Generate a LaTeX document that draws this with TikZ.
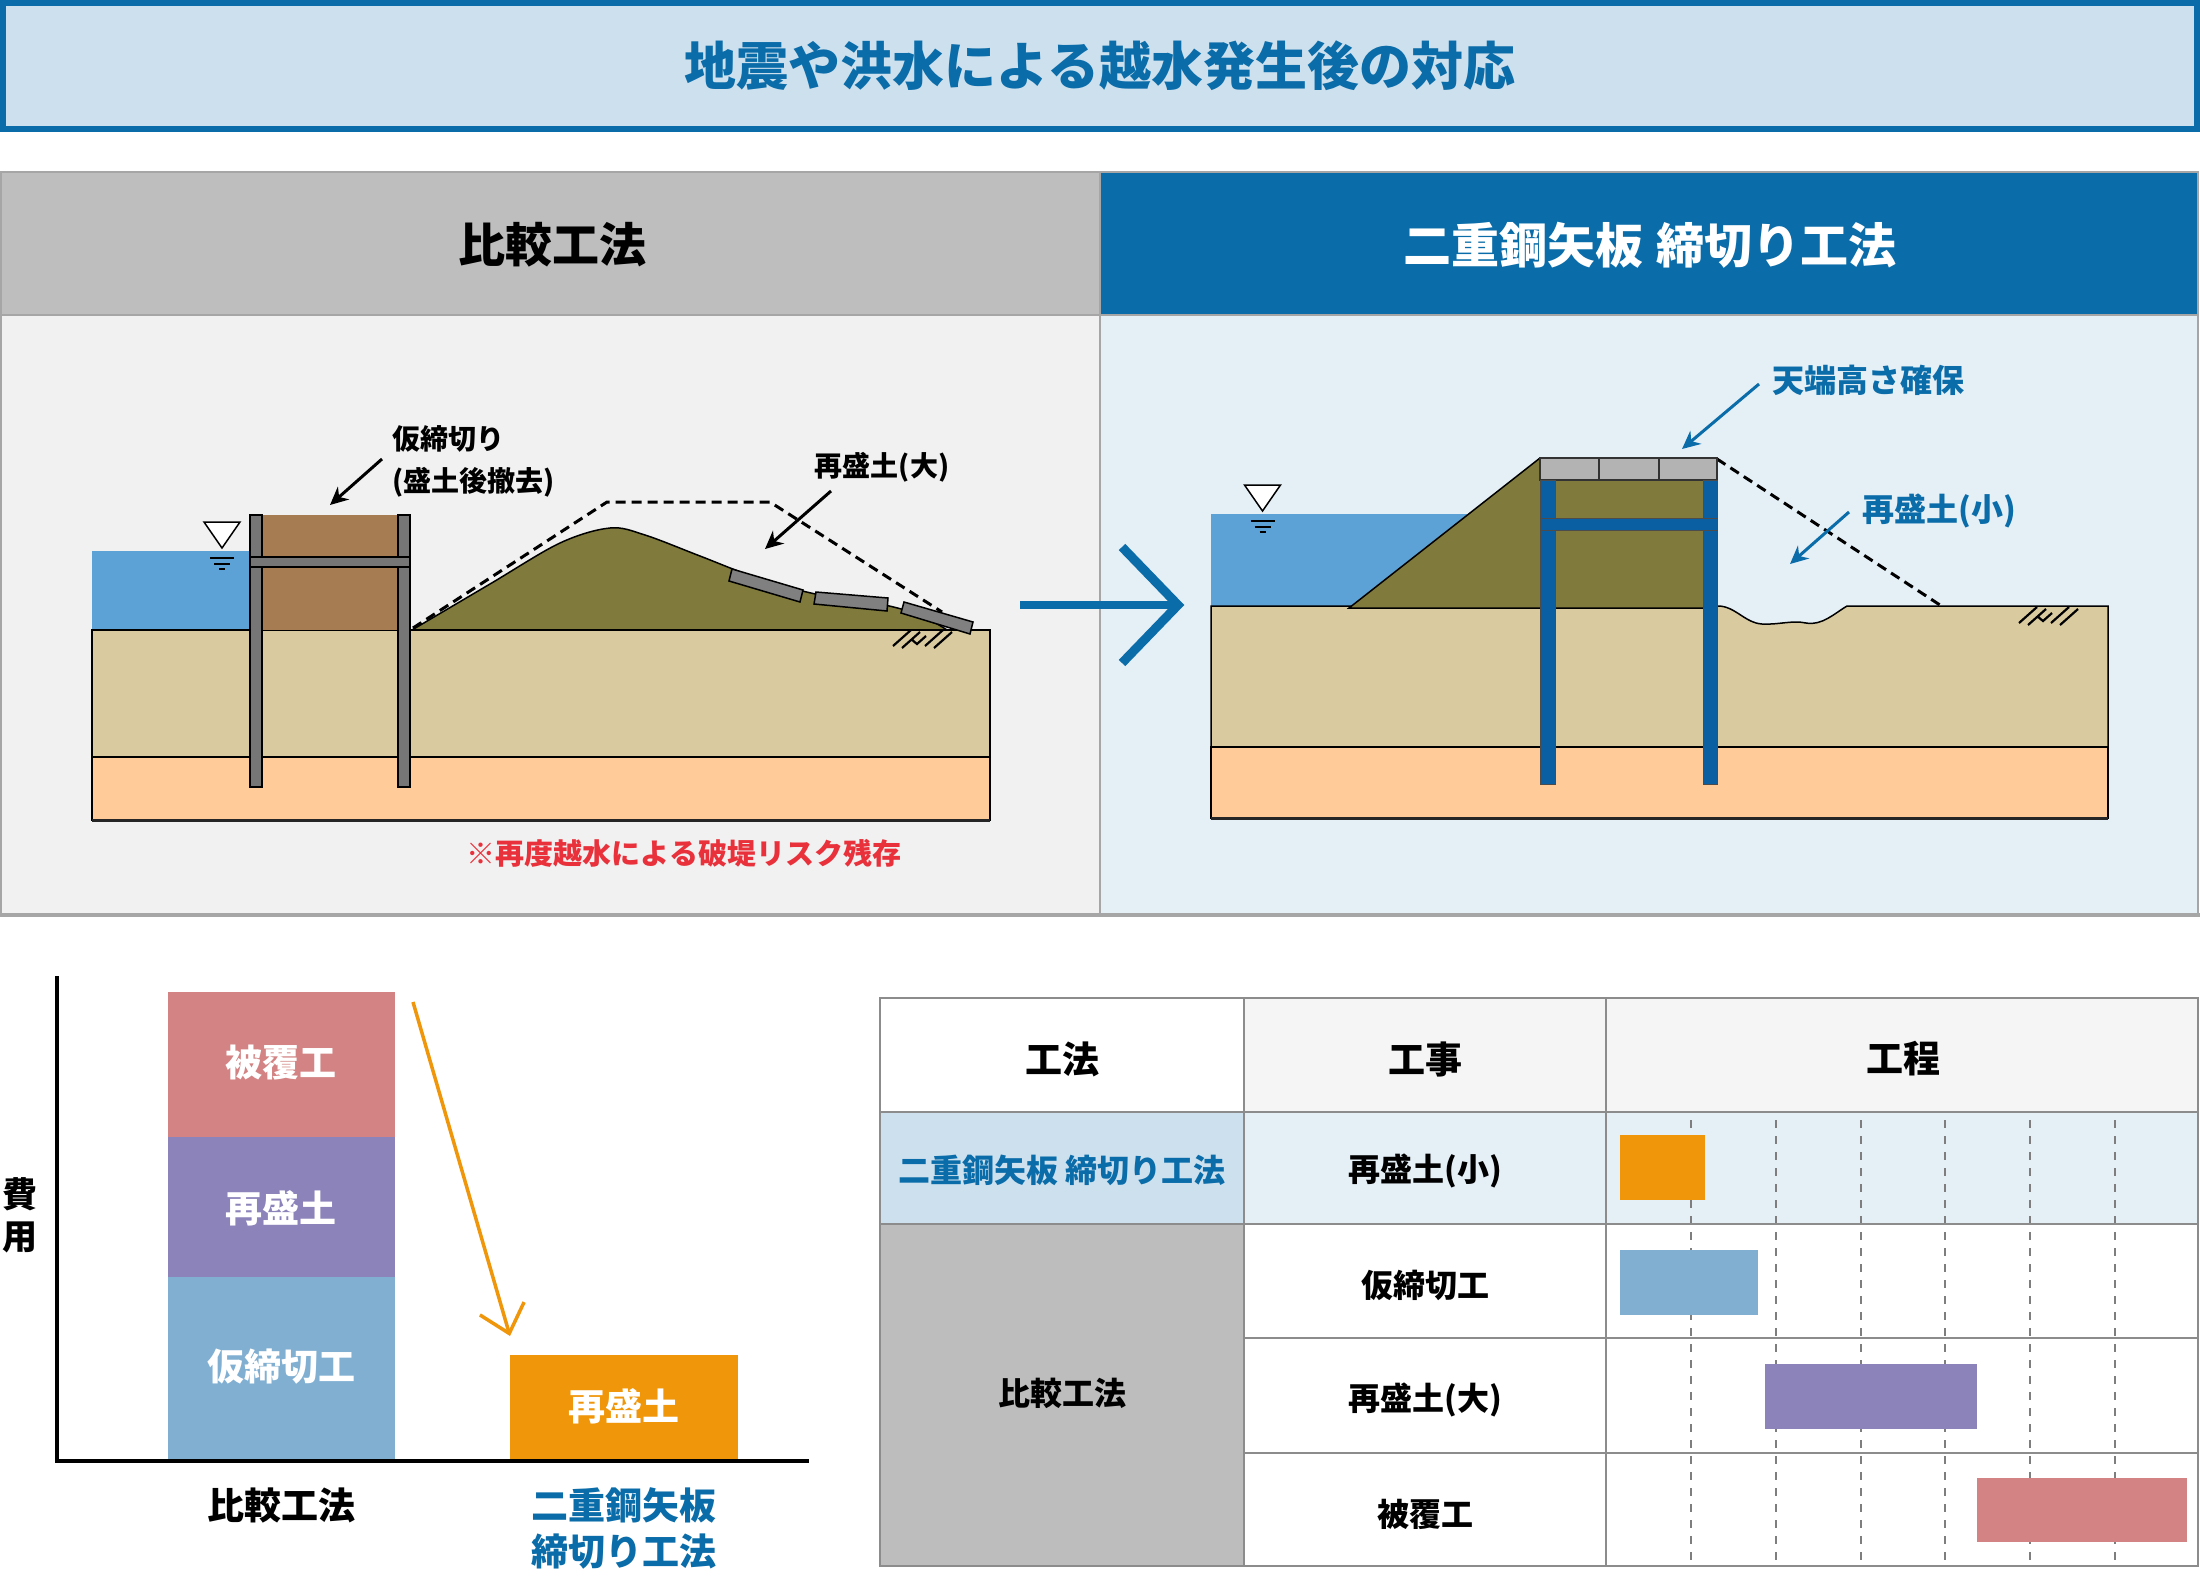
\documentclass[tikz,border=0pt]{standalone}
\usepackage{fontspec}
\setmainfont{Noto Sans CJK JP}
\usetikzlibrary{arrows.meta}
\definecolor{tblue}{HTML}{0A6CA8}
\definecolor{titlefill}{HTML}{CDE0EE}
\definecolor{hdrgray}{HTML}{BEBEBE}
\definecolor{pborder}{HTML}{A6A6A6}
\definecolor{lbody}{HTML}{F1F1F1}
\definecolor{rbody}{HTML}{E4EFF6}
\definecolor{water}{HTML}{5CA2D6}
\definecolor{tan}{HTML}{D9CA9F}
\definecolor{peach}{HTML}{FFCB99}
\definecolor{olivefill}{HTML}{807B3C}
\definecolor{brownfill}{HTML}{A67C52}
\definecolor{pilegray}{HTML}{767676}
\definecolor{blockgray}{HTML}{808080}
\definecolor{capgray}{HTML}{B3B3B3}
\definecolor{pileblue}{HTML}{0A5FA3}
\definecolor{notered}{HTML}{E8313B}
\definecolor{cpink}{HTML}{D38383}
\definecolor{cpurple}{HTML}{8C83BA}
\definecolor{clblue}{HTML}{80AFD2}
\definecolor{corange}{HTML}{F0960A}
\definecolor{thead}{HTML}{F5F5F5}
\definecolor{tgray}{HTML}{BDBDBD}
\definecolor{tline}{HTML}{8C8C8C}
\newcommand\myfs[1]{\fontsize{#1}{#1}\selectfont}
\tikzset{
  txt/.style={inner sep=0pt, font=\bfseries\myfs{#1}},
  outl/.style={draw=black, line width=1.5pt},
  ptr/.style={line width=3pt, -{Stealth[length=18pt,width=17pt]}},
  dashln/.style={line width=3pt, dash pattern=on 10pt off 6pt},
  gantdash/.style={draw=tline!90!black, line width=2pt, dash pattern=on 8pt off 8pt},
  grid/.style={draw=tline, line width=2.5pt},
  hatchsym/.pic={
    \draw[line width=2.2pt] (0,16)--(18,0) (9,18)--(27,2) (18,9)--(24,14)--(33,6) (32,16)--(50,0) (41,18)--(59,2);
  },
  wsym/.pic={
    \filldraw[fill=white, draw=black, line width=1.5pt] (-18,-26)--(18,-26)--(0,0)--cycle;
    \draw[line width=2pt] (-12,10)--(12,10) (-8,16)--(8,16) (-3,21)--(3,21);
  }
}
\begin{document}
\begin{tikzpicture}[x=1pt,y=-1pt]
\useasboundingbox (0,0) rectangle (2200,1588);
\fill[white] (0,0) rectangle (2200,1588);

% ---------- title ----------
\node[draw=tblue, line width=6pt, fill=titlefill, minimum width=2194pt, minimum height=126pt, inner sep=0pt] (titlebox) at (1100,66) {};
\node[txt=52, text=tblue] (title) at (1100,66) {地震や洪水による越水発生後の対応};

% ---------- panels ----------
\filldraw[fill=hdrgray, draw=pborder, line width=2pt] (1,172) rectangle (1100,315);
\filldraw[fill=lbody, draw=pborder, line width=2pt] (1,315) rectangle (1100,915);
\filldraw[fill=tblue, draw=pborder, line width=2pt] (1100,172) rectangle (2198,315);
\filldraw[fill=rbody, draw=pborder, line width=2pt] (1100,315) rectangle (2198,915);
\draw[pborder, line width=4pt] (0,915) -- (2200,915);
\node[txt=47] (hleft) at (552,245) {比較工法};
\node[txt=48, text=white] (hright) at (1650,245) {二重鋼矢板\hspace{14pt}締切り工法};

% ---------- left diagram ----------
\fill[water] (92,551) rectangle (251,630);
\filldraw[fill=tan, outl] (92,630) rectangle (990,757);
\filldraw[fill=peach, outl] (92,757) rectangle (990,820);
\draw[black!85, line width=3pt] (92,820) -- (990,820);
\fill[brownfill] (262,515) rectangle (398,630);
\filldraw[fill=olivefill, outl] plot[smooth, tension=0.55] coordinates {(412,630) (490,584) (560,543) (610,528) (645,535) (700,556) (760,579) (820,595) (880,604) (920,615) (947,630)} -- cycle;
\draw[outl] (412,630) -- (990,630);
\draw[dashln] (413,628) -- (607,502) -- (770,502) -- (942,612);
\filldraw[fill=blockgray, outl] (732,569) -- (803,590) -- (800,602) -- (729,581) -- cycle;
\filldraw[fill=blockgray, outl] (816,592) -- (888,598) -- (887,611) -- (814,604) -- cycle;
\filldraw[fill=blockgray, outl] (904,602) -- (973,622) -- (970,634) -- (901,613) -- cycle;
\filldraw[fill=pilegray, draw=black, line width=1.2pt] (250,515) rectangle (262,787);
\filldraw[fill=pilegray, draw=black, line width=1.2pt] (398,515) rectangle (410,787);
\filldraw[fill=pilegray, draw=black, line width=1.2pt] (250,557) rectangle (410,567);
\pic at (222,548) {wsym};
\pic at (893,630) {hatchsym};
\node[txt=28, anchor=west] (kari1) at (392,439) {仮締切り};
\node[txt=28, anchor=west] (kari2) at (392,482) {(盛土後撤去)};
\coordinate (karitip) at (330,505);
\draw[ptr] (382,459) -- (karitip);
\node[txt=28] (saidai) at (882,467) {再盛土(大)};
\coordinate (saidaitip) at (765,549);
\draw[ptr] (831,491) -- (saidaitip);
\node[txt=29, text=notered] (note) at (684,853) {※再度越水による破堤リスク残存};

% ---------- middle arrow ----------
\coordinate (marr) at (1178,605);
\draw[tblue, line width=8pt] (1020,605) -- (marr);
\draw[tblue, line width=9pt, line join=miter] (1122,547) -- (marr) -- (1122,663);

% ---------- right diagram ----------
\fill[water] (1211,514) rectangle (1480,606);
\filldraw[fill=tan, outl] (1211,606) -- (1718,606) .. controls (1735,606) and (1745,623) .. (1762,624) .. controls (1778,625) and (1792,620) .. (1806,623) .. controls (1822,626) and (1835,613) .. (1847,606) -- (2108,606) -- (2108,747) -- (1211,747) -- cycle;
\filldraw[fill=peach, outl] (1211,747) rectangle (2108,818);
\draw[black!85, line width=3pt] (1211,818) -- (2108,818);
\filldraw[fill=olivefill, outl] (1349,608) -- (1540,458) -- (1717,458) -- (1717,608) -- cycle;
\draw[dashln] (1717,459) -- (1943,607);
\filldraw[fill=capgray, draw=black!80, line width=1.5pt] (1540,458) rectangle (1717,480);
\draw[black!80, line width=1.5pt] (1599,458) -- (1599,480) (1659,458) -- (1659,480);
\filldraw[fill=pileblue, draw=black!70, line width=1pt] (1540,480) rectangle (1555,784);
\filldraw[fill=pileblue, draw=black!70, line width=1pt] (1703,480) rectangle (1717,784);
\filldraw[fill=pileblue, draw=black!70, line width=1pt] (1540,518) rectangle (1717,530);
\pic at (1262.5,511) {wsym};
\pic at (2019,607) {hatchsym};
\node[txt=32, text=tblue] (tenba) at (1868,380) {天端高さ確保};
\coordinate (tenbatip) at (1682,449);
\draw[ptr, tblue] (1759,384) -- (tenbatip);
\node[txt=32, text=tblue] (saisho) at (1939,511) {再盛土(小)};
\coordinate (saishotip) at (1790,564);
\draw[ptr, tblue] (1849,512) -- (saishotip);

% ---------- cost chart ----------
\fill[cpink] (168,992) rectangle (395,1137);
\fill[cpurple] (168,1137) rectangle (395,1277);
\fill[clblue] (168,1277) rectangle (395,1461);
\fill[corange] (510,1355) rectangle (738,1461);
\draw[line width=4pt] (57,976) -- (57,1461) -- (809,1461);
\node[txt=37, text=white] (b1) at (281,1063) {被覆工};
\node[txt=37, text=white] (b2) at (281,1208) {再盛土};
\node[txt=37, text=white] (b3) at (281,1367) {仮締切工};
\node[txt=37, text=white] (b4) at (624,1406) {再盛土};
\coordinate (costtip) at (510,1336);
\draw[corange, line width=3.5pt, -{Straight Barb[length=26pt,width=46pt,line width=3.5pt]}] (413,1002) -- (costtip);
\node[txt=35] (hi1) at (20,1194) {費};
\node[txt=35] (hi2) at (20,1237) {用};
\node[txt=37] (xl1) at (281,1505) {比較工法};
\node[txt=37, text=tblue] (xl2) at (624,1505) {二重鋼矢板};
\node[txt=37, text=tblue] (xl3) at (624,1552) {締切り工法};

% ---------- table ----------
\fill[white] (880,998) rectangle (1244,1112);
\fill[thead] (1244,998) rectangle (2198,1112);
\fill[titlefill] (880,1112) rectangle (1244,1224);
\fill[rbody] (1244,1112) rectangle (2198,1224);
\fill[tgray] (880,1224) rectangle (1244,1566);
\fill[white] (1244,1224) rectangle (2198,1566);
\foreach \x in {1691,1776,1861,1945,2030,2115} \draw[gantdash] (\x,1120) -- (\x,1566);
\fill[corange] (1620,1135) rectangle (1705,1200);
\fill[clblue] (1620,1250) rectangle (1758,1315);
\fill[cpurple] (1765,1364) rectangle (1977,1429);
\fill[cpink] (1977,1478) rectangle (2187,1542);
\draw[grid] (880,998) rectangle (2198,1566);
\draw[grid] (880,1112) -- (2198,1112) (880,1224) -- (2198,1224);
\draw[grid] (1244,1338) -- (2198,1338) (1244,1453) -- (2198,1453);
\draw[grid] (1244,998) -- (1244,1566) (1606,998) -- (1606,1566);
\node[txt=37] (th1) at (1062,1059) {工法};
\node[txt=37] (th2) at (1425,1059) {工事};
\node[txt=37] (th3) at (1903,1059) {工程};
\node[txt=32, text=tblue] (r1a) at (1062,1170) {二重鋼矢板 締切り工法};
\node[txt=32] (r1b) at (1425,1171) {再盛土(小)};
\node[txt=32] (r2a) at (1062,1393) {比較工法};
\node[txt=32] (r2b) at (1425,1285) {仮締切工};
\node[txt=32] (r3b) at (1425,1400) {再盛土(大)};
\node[txt=32] (r4b) at (1425,1514) {被覆工};
\end{tikzpicture}
\end{document}
